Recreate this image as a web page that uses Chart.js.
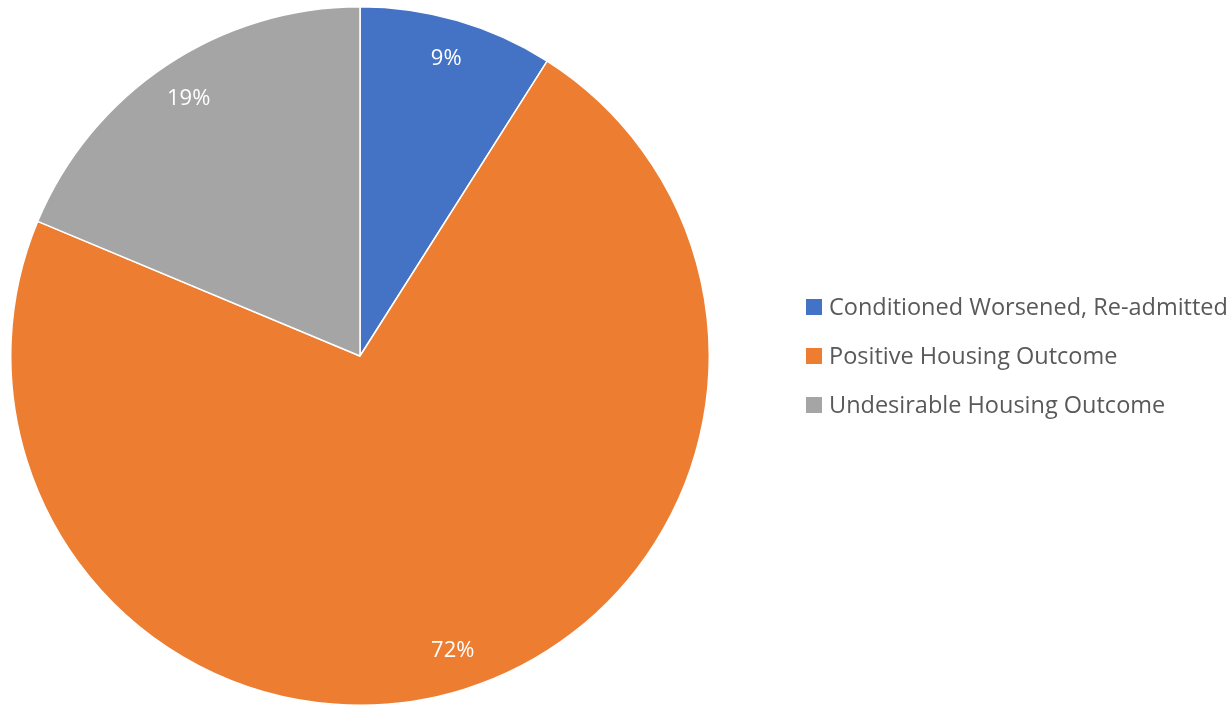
<!DOCTYPE html>
<html>
<head>
<meta charset="utf-8">
<script src="https://cdn.jsdelivr.net/npm/chart.js@4"></script>
<style>
    html, body { margin: 0; padding: 0; background: #ffffff; }
    #wrap { width: 1230px; height: 707px; position: relative; }
</style>
</head>
<body>
<div id="wrap"><canvas id="pieChart" width="1230" height="707"></canvas></div>
<script>
const categories = ['Conditioned Worsened, Re-admitted', 'Positive Housing Outcome', 'Undesirable Housing Outcome'];
const shares = [9.0, 72.3, 18.7];
const percentLabels = ['9%', '72%', '19%'];
const sliceColors = ['#4472C4', '#ED7D31', '#A5A5A5'];

const fontFamily = '"Open Sans", "Noto Sans", sans-serif';

// percentage text inside each slice
const sliceLabels = {
    id: 'sliceLabels',
    afterDatasetsDraw(chart) {
        const ctx = chart.ctx;
        const meta = chart.getDatasetMeta(0);
        ctx.save();
        ctx.fillStyle = '#ffffff';
        ctx.font = '22px ' + fontFamily;
        ctx.textAlign = 'center';
        ctx.textBaseline = 'middle';
        meta.data.forEach(function(arc, i) {
            const mid = (arc.startAngle + arc.endAngle) / 2;
            const r = arc.outerRadius * 0.885;
            ctx.fillText(percentLabels[i], arc.x + Math.cos(mid) * r, arc.y + Math.sin(mid) * r);
        });
        ctx.restore();
    }
};

// legend drawn to the right of the pie
const sideLegend = {
    id: 'sideLegend',
    afterDraw(chart) {
        const ctx = chart.ctx;
        const x = 806;
        const yStart = 307;
        const gap = 49;
        ctx.save();
        ctx.font = '23.5px ' + fontFamily;
        ctx.textBaseline = 'middle';
        chart.data.labels.forEach(function(label, i) {
            const y = yStart + i * gap;
            ctx.fillStyle = sliceColors[i];
            ctx.fillRect(x, y - 8, 16, 16);
            ctx.fillStyle = '#595959';
            ctx.fillText(label, x + 23, y + 1);
        });
        ctx.restore();
    }
};

document.addEventListener('DOMContentLoaded', function() {
    const ctx = document.getElementById('pieChart').getContext('2d');
    new Chart(ctx, {
        type: 'pie',
        data: {
            labels: categories,
            datasets: [{
                data: shares,
                backgroundColor: sliceColors,
                borderColor: '#ffffff',
                borderWidth: 1.5
            }]
        },
        options: {
            responsive: false,
            animation: false,
            layout: {
                padding: { top: 6, bottom: 1, left: 10, right: 520 }
            },
            plugins: {
                legend: { display: false },
                tooltip: { enabled: false }
            }
        },
        plugins: [sliceLabels, sideLegend]
    });
});
</script>
</body>
</html>
